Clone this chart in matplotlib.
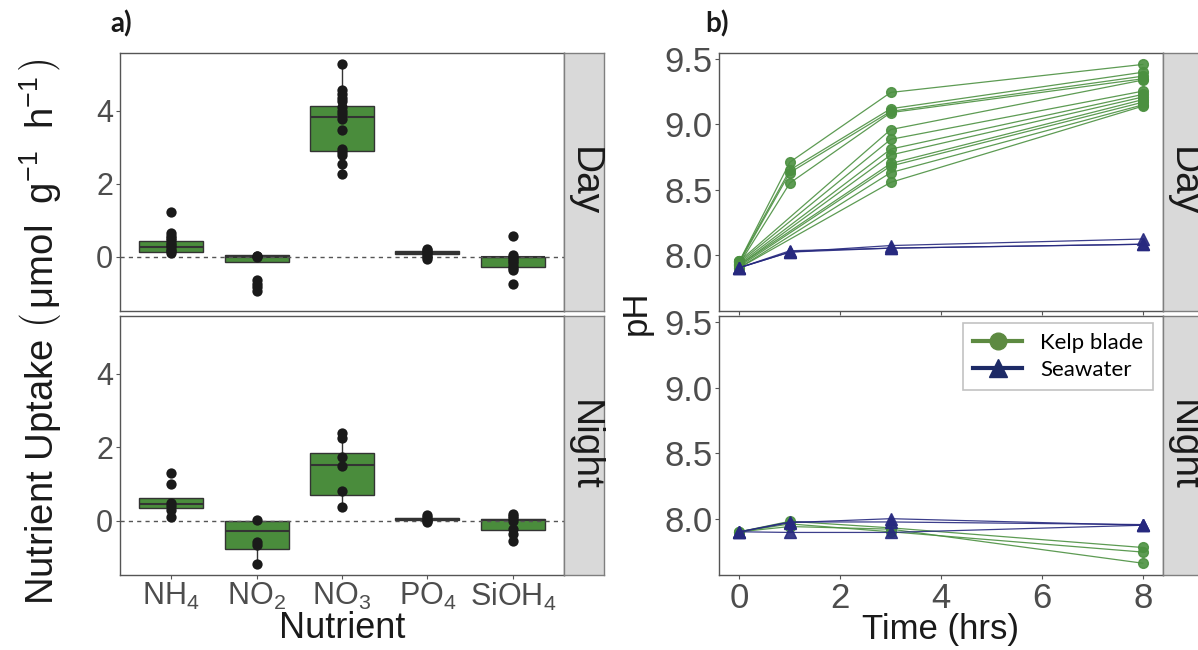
import numpy as np
import matplotlib
matplotlib.use('Agg')
import matplotlib.pyplot as plt
from matplotlib.lines import Line2D

plt.rcParams['font.family'] = ['Liberation Sans', 'DejaVu Sans']
plt.rcParams['mathtext.fontset'] = 'custom'
plt.rcParams['mathtext.rm'] = 'Liberation Sans'
plt.rcParams['mathtext.it'] = 'Liberation Sans:italic'
plt.rcParams['mathtext.default'] = 'regular'

# ---- data: panel a) nutrient uptake ----
nutrients = ['NH$_4$', 'NO$_2$', 'NO$_3$', 'PO$_4$', 'SiOH$_4$']

# box stats: (whislo, q1, med, q3, whishi)
day_boxes = [(0.10, 0.14, 0.26, 0.43, 0.64),
             (-0.15, -0.15, 0.0, 0.04, 0.03),
             (2.26, 2.90, 3.82, 4.13, 5.26),
             (-0.06, 0.07, 0.12, 0.16, 0.22),
             (-0.35, -0.27, 0.0, 0.0, 0.05)]
night_boxes = [(0.11, 0.35, 0.45, 0.61, 0.61),
               (-1.16, -0.76, -0.27, 0.0, 0.02),
               (0.38, 0.71, 1.52, 1.86, 2.38),
               (0.0, 0.02, 0.05, 0.09, 0.09),
               (-0.55, -0.26, 0.02, 0.06, 0.20)]

day_points = [[1.23, 0.64, 0.58, 0.52, 0.45, 0.38, 0.32, 0.26, 0.20, 0.15, 0.10],
              [0.03, 0.02, 0.0, -0.63, -0.75, -0.81, -0.94],
              [5.26, 4.56, 4.45, 4.34, 4.27, 4.09, 4.0, 3.9, 3.77, 3.46, 2.96, 2.87, 2.78, 2.53, 2.26],
              [0.22, 0.18, 0.14, 0.10, 0.05, 0.0, -0.06],
              [0.57, 0.05, 0.0, -0.06, -0.12, -0.18, -0.24, -0.30, -0.35, -0.74]]
night_points = [[1.29, 1.0, 0.49, 0.40, 0.31, 0.11],
                [0.02, -0.57, -0.65, -1.16],
                [2.38, 2.25, 1.75, 1.5, 0.81, 0.38],
                [0.15, 0.10, 0.05, 0.0, -0.03],
                [0.2, 0.14, 0.09, 0.0, -0.21, -0.36, -0.55]]

# ---- data: panel b) pH over time ----
kelp_day = [([0, 1, 3, 8], [7.95, 8.71, 9.245, 9.46]),
            ([0, 1, 3, 8], [7.95, 8.65, 9.12, 9.40]),
            ([0, 1, 3, 8], [7.94, 8.63, 9.10, 9.37]),
            ([0, 1, 3, 8], [7.93, 8.55, 9.09, 9.35]),
            ([0, 3, 8], [7.95, 8.96, 9.34]),
            ([0, 3, 8], [7.94, 8.885, 9.255]),
            ([0, 3, 8], [7.93, 8.81, 9.23]),
            ([0, 3, 8], [7.92, 8.765, 9.21]),
            ([0, 3, 8], [7.92, 8.70, 9.19]),
            ([0, 3, 8], [7.91, 8.68, 9.17]),
            ([0, 3, 8], [7.90, 8.63, 9.15]),
            ([0, 3, 8], [7.90, 8.555, 9.14])]
sea_day = [([0, 1, 3, 8], [7.90, 8.02, 8.07, 8.12]),
           ([0, 1, 3, 8], [7.90, 8.02, 8.05, 8.08]),
           ([0, 1, 3, 8], [7.90, 8.03, 8.05, 8.08])]
kelp_night = [([0, 1, 3, 8], [7.90, 7.98, 7.93, 7.78]),
              ([0, 1, 3, 8], [7.90, 7.96, 7.90, 7.745]),
              ([0, 1, 3, 8], [7.90, 7.94, 7.92, 7.66])]
sea_night = [([0, 1, 3, 8], [7.90, 7.97, 8.00, 7.95]),
             ([0, 1, 3, 8], [7.90, 7.975, 7.975, 7.955]),
             ([0, 1, 3, 8], [7.90, 7.895, 7.895, 7.95])]

W, H = 1198, 650
fig = plt.figure(figsize=(W / 100, H / 100), dpi=100)

def px(x0, y0, x1, y1):
    return [x0 / W, 1 - y1 / H, (x1 - x0) / W, (y1 - y0) / H]

grey_txt = '#4d4d4d'
spine_c = '#555555'
box_green = '#4a8c3c'
kelp_c = '#4b9040'
sea_c = '#27297f'

def style(ax, size):
    for s in ax.spines.values():
        s.set_color(spine_c)
        s.set_linewidth(1.0)
    ax.tick_params(colors=spine_c, labelcolor=grey_txt, labelsize=size, length=3, width=0.8, pad=2)

def strip(rect, label):
    sa = fig.add_axes(px(*rect))
    sa.set_facecolor('#d9d9d9')
    sa.set_xticks([])
    sa.set_yticks([])
    for s in sa.spines.values():
        s.set_color('#7f7f7f')
        s.set_linewidth(1.0)
    sa.text(0.5, 0.5, label, rotation=-90, ha='center', va='center', fontsize=28,
            color='#1a1a1a', transform=sa.transAxes)

def box_panel(ax, boxes, points, show_x):
    stats = []
    for b in boxes:
        stats.append(dict(whislo=b[0], q1=b[1], med=b[2], q3=b[3], whishi=b[4], fliers=[]))
    pos = np.arange(1, len(boxes) + 1)
    ax.bxp(stats, positions=pos, widths=0.75, patch_artist=True, showfliers=False, showcaps=False,
           boxprops=dict(facecolor=box_green, edgecolor='#333333', linewidth=1.0),
           medianprops=dict(color='#333333', linewidth=1.5),
           whiskerprops=dict(color='#333333', linewidth=1.0), zorder=2)
    ax.axhline(0, color='#555555', linestyle=(0, (3, 3)), linewidth=1.0, zorder=3)
    for p, vals in zip(pos, points):
        ax.scatter([p] * len(vals), vals, s=55, color='#1a1a1a', zorder=4, linewidths=0)
    ax.set_xlim(0.4, 5.6)
    ax.set_ylim(-1.47, 5.58)
    ax.set_yticks([0, 2, 4])
    ax.set_xticks(pos)
    style(ax, 22)
    if show_x:
        ax.set_xticklabels(nutrients)
        ax.tick_params(axis='x', pad=1)
    else:
        ax.tick_params(axis='x', bottom=False, labelbottom=False)

def ph_panel(ax, kelp, sea, show_x):
    for t, v in kelp:
        ax.plot(t, v, '-o', color=kelp_c, lw=0.9, ms=7, alpha=0.9, zorder=3)
    for t, v in sea:
        ax.plot(t, v, '-^', color=sea_c, lw=0.9, ms=8, alpha=0.9, zorder=4)
    ax.set_xlim(-0.4, 8.4)
    ax.set_ylim(7.57, 9.55)
    ax.set_yticks([8.0, 8.5, 9.0, 9.5])
    ax.set_yticklabels(['8.0', '8.5', '9.0', '9.5'])
    ax.set_xticks([0, 2, 4, 6, 8])
    style(ax, 25)
    if not show_x:
        ax.tick_params(axis='x', labelbottom=False)

# panel a)
ax1 = fig.add_axes(px(120, 52.7, 564, 310.7))
ax2 = fig.add_axes(px(120, 315.7, 564, 575))
box_panel(ax1, day_boxes, day_points, False)
box_panel(ax2, night_boxes, night_points, True)
strip((564, 52.7, 604, 310.7), 'Day')
strip((564, 315.7, 604, 575), 'Night')

# panel b)
ax3 = fig.add_axes(px(719.3, 52.7, 1163, 310.7))
ax4 = fig.add_axes(px(719.3, 315.7, 1163, 575))
ph_panel(ax3, kelp_day, sea_day, False)
ph_panel(ax4, kelp_night, sea_night, True)
strip((1163, 52.7, 1203, 310.7), 'Day')
strip((1163, 315.7, 1203, 575), 'Night')

handles = [Line2D([], [], color='#5d8a41', lw=3, marker='o', ms=12),
           Line2D([], [], color='#1d2a66', lw=3, marker='^', ms=13)]
leg = ax4.legend(handles, ['Kelp blade', 'Seawater'], loc='upper right',
                 bbox_to_anchor=(0.9775, 0.972), borderaxespad=0,
                 prop={'family': 'Lato', 'size': 16},
                 frameon=True, fancybox=False, handlelength=2.2, borderpad=0.45,
                 labelspacing=0.3, handletextpad=0.8)
leg.get_frame().set_edgecolor('#b3b3b3')
leg.get_frame().set_linewidth(1.2)

# axis titles
fig.text(40 / W, 1 - 332 / H, r'Nutrient Uptake $\left(\,\mu mol\ \ g^{-1}\ \ h^{-1}\,\right)$',
         rotation=90, ha='center', va='center', fontsize=27.5, color='#1a1a1a')
fig.text(342 / W, 1 - 628 / H, 'Nutrient', ha='center', va='center', fontsize=26, color='#1a1a1a')
fig.text(636 / W, 1 - 313 / H, 'pH', rotation=90, ha='center', va='center', fontsize=25, color='#1a1a1a')
fig.text(940 / W, 1 - 630 / H, 'Time (hrs)', ha='center', va='center', fontsize=25, color='#1a1a1a')

fig.text(121 / W, 1 - 24 / H, 'a)', ha='center', va='center', fontsize=20, fontweight='bold',
         family='Lato', color='#1a1a1a')
fig.text(717 / W, 1 - 24 / H, 'b)', ha='center', va='center', fontsize=20, fontweight='bold',
         family='Lato', color='#1a1a1a')

fig.savefig('out.png', dpi=100)
